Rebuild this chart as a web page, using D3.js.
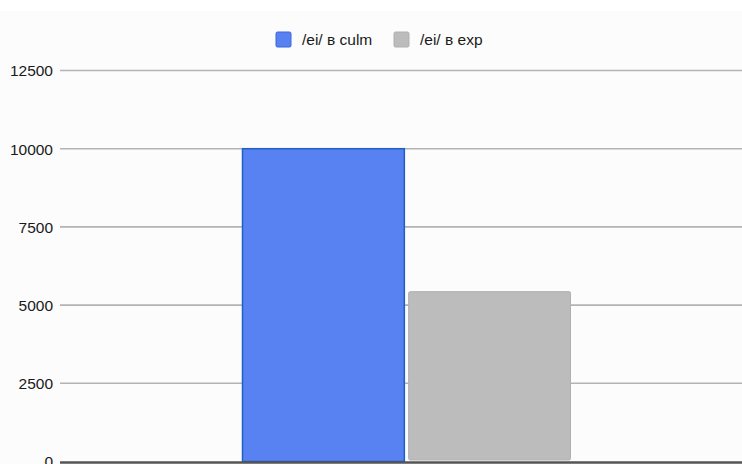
<!DOCTYPE html>
<html><head><meta charset="utf-8">
<script src="https://cdn.jsdelivr.net/npm/d3@7"></script>
<style>
html,body{margin:0;padding:0;background:#fff;}
svg{display:block;}
text{font-family:"Liberation Sans",Arial,sans-serif;}
</style></head>
<body>
<script>
const categories = ["all"];
const seriesNames = ["/ei/ в culm", "/ei/ в exp"];
const seriesValues = [10000, 5430];
const seriesColors = ["#5882f2", "#bcbcbc"];
const seriesStrokes = ["#1f5fc8", "#b0b0b0"];
const yTicks = [0, 2500, 5000, 7500, 10000, 12500];

const W = 742, H = 464;
const svg = d3.select("body").append("svg").attr("width", W).attr("height", H);
svg.append("rect").attr("x",0).attr("y",11).attr("width",W).attr("height",H-11).attr("fill","#fcfcfc");

const y = d3.scaleLinear().domain([0, 12500]).range([461.5, 70.5]);
const x0 = d3.scaleBand().domain(categories).range([242, 571]).padding(0);
const x1 = d3.scaleBand().domain(seriesNames).range([0, x0.bandwidth()]).paddingInner(0.02);

const yAxis = d3.axisLeft(y).tickValues(yTicks).tickSize(0).tickPadding(0).tickFormat(d3.format("d"));
const gAxis = svg.append("g").attr("transform","translate(60,0)").call(yAxis);
gAxis.select(".domain").remove();
gAxis.selectAll("text").attr("x",-7).attr("dy","0.35em").attr("font-size","15.5px").attr("fill","#1a1a1a")
  .attr("font-family","'Liberation Sans',Arial,sans-serif");
svg.append("g").selectAll("line").data(yTicks.filter(d=>d>0)).join("line")
  .attr("x1",60).attr("x2",W).attr("y1",d=>y(d)).attr("y2",d=>y(d))
  .attr("stroke","#b3b3b3").attr("stroke-width",1.6);

const g = svg.append("g").attr("transform",`translate(${x0(categories[0])},0)`);
g.selectAll("rect").data(seriesNames.map((n,i)=>({n, v:seriesValues[i], i}))).join("rect")
  .attr("x",d=>x1(d.n)+0.5).attr("width",d=>x1.bandwidth()-1)
  .attr("y",d=>y(d.v)).attr("height",d=>y(0)-y(d.v)-(d.i===1?1.5:0))
  .attr("fill",d=>seriesColors[d.i]).attr("stroke",d=>seriesStrokes[d.i]).attr("stroke-width",d=>d.i===0?1.5:1)
  .attr("rx",d=>d.i===1?1.5:0);

svg.append("line").attr("x1",60).attr("x2",W).attr("y1",y(0)+1).attr("y2",y(0)+1)
  .attr("stroke","#555").attr("stroke-width",2.5);

const legX = [276, 394];
const leg = svg.append("g").selectAll("g").data(seriesNames).join("g")
  .attr("transform",(d,i)=>`translate(${legX[i]},32)`);
leg.append("rect").attr("width",15).attr("height",15).attr("rx",1.5)
  .attr("fill",(d,i)=>seriesColors[i]).attr("stroke",(d,i)=>i===0?"#3a66d8":"#b0b0b0").attr("stroke-width",1);
leg.append("text").attr("x",26).attr("y",13).attr("font-size","15.5px").attr("fill","#1a1a1a").text(d=>d);
</script>
</body></html>
